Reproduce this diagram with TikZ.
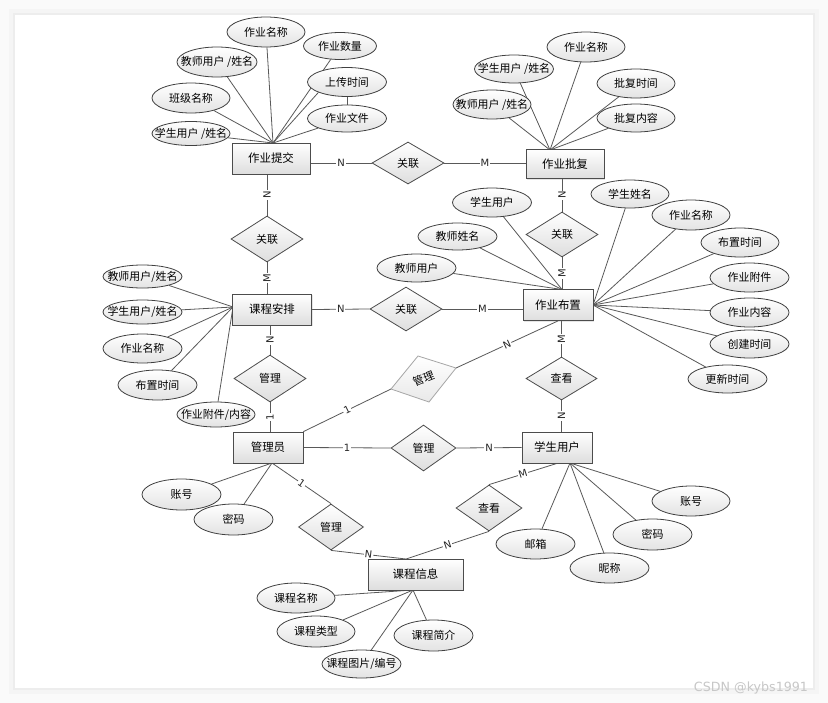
\documentclass[tikz,border=0pt]{standalone}
\usepackage{fontspec}
\newfontfamily\cjk{Noto Sans CJK SC}
\newfontfamily\lblf{DejaVu Sans}
\usetikzlibrary{shapes.geometric,shadows,calc}
\pgfdeclarelayer{bg}
\pgfdeclarelayer{bgg}
\pgfsetlayers{bgg,bg,main}
\newcommand\mbz[1]{\makebox[0pt]{#1}}
\begin{document}
\begin{tikzpicture}[x=0.75pt,y=-0.75pt,
  sz/.style 2 args={minimum width=#1*0.75pt, minimum height=#2*0.75pt},
  ent/.style={rectangle, draw=black!70, line width=0.6pt, top color=white, bottom color=black!13, inner sep=0pt,
    font=\cjk\fontsize{8.6}{10}\selectfont, drop shadow={shadow xshift=0.8pt,shadow yshift=-0.8pt,opacity=0.2}},
  rel/.style={diamond, draw=black!70, line width=0.6pt, top color=white, bottom color=black!13, inner sep=0pt,
    font=\cjk\fontsize{8.2}{10}\selectfont},
  attr/.style={ellipse, draw=black!75, line width=0.6pt, top color=white, bottom color=black!11, inner sep=0pt,
    font=\cjk\fontsize{8.2}{10}\selectfont},
  ln/.style={draw=black!65, line width=0.6pt},
  lbl/.style={fill=white, inner sep=0.7pt, font=\lblf\fontsize{7.5}{8}\selectfont, text=black!85}]
\useasboundingbox (0,0) rectangle (828,703);
\begin{pgfonlayer}{bgg}
\fill[black!2] (0,0) rectangle (828,703);
\fill[black!4] (9,9) rectangle (819,694);
\fill[black!7] (13,13) rectangle (815,690);
\fill[white] (15,15) rectangle (813,688);
\end{pgfonlayer}

% entities
\node[ent,sz={78}{31}] (zytj) at (271,158.5) {作业提交};
\node[ent,sz={78}{29}] (zypf) at (565,164) {作业批复};
\node[ent,sz={70}{31}] (zybz) at (558,305) {作业布置};
\node[ent,sz={79}{31}] (kcap) at (272,309.5) {课程安排};
\node[ent,sz={70}{31}] (gly) at (268,447.5) {管理员};
\node[ent,sz={70}{31}] (xsyh) at (557,447.5) {学生用户};
\node[ent,sz={95}{31}] (kcxx) at (415.5,574.5) {课程信息};

% relationships
\node[rel,sz={72}{42}] (r1) at (408,163) {\mbz{关联}};
\node[rel,sz={72}{46}] (r2) at (267,239) {\mbz{关联}};
\node[rel,sz={72}{44}] (r3) at (406,309) {\mbz{关联}};
\node[rel,sz={72}{45}] (r4) at (562,234.5) {\mbz{关联}};
\node[rel,sz={72}{47}] (r5) at (270,378.5) {\mbz{管理}};
\node[rel,sz={71}{43}] (r7) at (561.5,378.5) {\mbz{查看}};
\node[rel,sz={65}{46}] (r8) at (423.5,448) {\mbz{管理}};
\node[rel,sz={65}{46}] (r9) at (331,527) {\mbz{管理}};
\node[rel,sz={66}{46}] (r10) at (489,508) {\mbz{查看}};
\coordinate (r6l) at (391,389);
\coordinate (r6t) at (418,356);
\coordinate (r6r) at (456,368);
\coordinate (r6b) at (429,402);
\draw[draw=black!35, line width=0.6pt, top color=white, bottom color=black!9] (r6l) -- (r6t) -- (r6r) -- (r6b) -- cycle;
\node[rotate=22, font=\cjk\fontsize{8.2}{10}\selectfont, inner sep=0pt] (r6) at (423.5,379) {管理};

% attributes: 作业提交
\coordinate (c1) at (273,143);
\node[attr,sz={78}{30}] (a1) at (266,32) {\mbz{作业名称}};
\node[attr,sz={80}{30}] (a2) at (217,62) {\mbz{教师用户 /姓名}};
\node[attr,sz={73}{27}] (a3) at (340,46) {\mbz{作业数量}};
\node[attr,sz={79}{29}] (a4) at (347,82) {\mbz{上传时间}};
\node[attr,sz={79}{27}] (a5) at (347,118.5) {\mbz{作业文件}};
\node[attr,sz={78}{30}] (a6) at (191,98) {\mbz{班级名称}};
\node[attr,sz={78}{24}] (a7) at (191,133.5) {\mbz{学生用户 /姓名}};
% attributes: 作业批复
\coordinate (c2) at (550,150);
\node[attr,sz={78}{30}] (b1) at (586,47) {\mbz{作业名称}};
\node[attr,sz={79}{28}] (b2) at (514,69) {\mbz{学生用户 /姓名}};
\node[attr,sz={78}{29}] (b3) at (636,83.5) {\mbz{批复时间}};
\node[attr,sz={78}{29}] (b4) at (492,104.5) {\mbz{教师用户 /姓名}};
\node[attr,sz={78}{28}] (b5) at (636,118) {\mbz{批复内容}};
% attributes: 作业布置
\coordinate (c3) at (562,289.5);
\coordinate (c4) at (593,305);
\node[attr,sz={79}{29}] (d1) at (492,202.5) {\mbz{学生用户}};
\node[attr,sz={79}{27}] (d2) at (457.5,236.5) {\mbz{教师姓名}};
\node[attr,sz={79}{28}] (d3) at (416.5,268) {\mbz{教师用户}};
\node[attr,sz={78}{28}] (d4) at (630,194) {\mbz{学生姓名}};
\node[attr,sz={78}{30}] (d5) at (691,215) {\mbz{作业名称}};
\node[attr,sz={78}{29}] (d6) at (740,242.5) {\mbz{布置时间}};
\node[attr,sz={79}{29}] (d7) at (749.5,277.5) {\mbz{作业附件}};
\node[attr,sz={79}{29}] (d8) at (749.5,312.5) {\mbz{作业内容}};
\node[attr,sz={79}{28}] (d9) at (749.5,344) {\mbz{创建时间}};
\node[attr,sz={79}{28}] (d10) at (727.5,379) {\mbz{更新时间}};
% attributes: 课程安排
\coordinate (c5) at (233,307);
\node[attr,sz={79}{23}] (e1) at (142.5,276.5) {\mbz{教师用户/姓名}};
\node[attr,sz={79}{24}] (e2) at (142.5,312) {\mbz{学生用户/姓名}};
\node[attr,sz={79}{29}] (e3) at (142.5,348.5) {\mbz{作业名称}};
\node[attr,sz={79}{30}] (e4) at (157.5,385) {\mbz{布置时间}};
\node[attr,sz={78}{25}] (e5) at (216,414.5) {\mbz{作业附件/内容}};
% attributes: 管理员
\coordinate (c6) at (272,463);
\node[attr,sz={79}{31}] (f1) at (181.5,494.5) {\mbz{账号}};
\node[attr,sz={79}{31}] (f2) at (233.5,519.5) {\mbz{密码}};
% attributes: 课程信息
\coordinate (c7) at (413,590);
\node[attr,sz={78}{30}] (g1) at (296,598) {\mbz{课程名称}};
\node[attr,sz={78}{31}] (g2) at (316,631.5) {\mbz{课程类型}};
\node[attr,sz={79}{28}] (g3) at (361.5,664) {\mbz{课程图片/编号}};
\node[attr,sz={79}{31}] (g4) at (433.5,635.5) {\mbz{课程简介}};
% attributes: 学生用户
\coordinate (c8) at (570,463);
\node[attr,sz={78}{30}] (h1) at (691,501) {\mbz{账号}};
\node[attr,sz={79}{31}] (h2) at (652.5,534.5) {\mbz{密码}};
\node[attr,sz={79}{30}] (h3) at (535.5,544) {\mbz{邮箱}};
\node[attr,sz={79}{30}] (h4) at (609.5,568) {\mbz{昵称}};

\coordinate (kcT) at (406,559);

\begin{pgfonlayer}{bg}
\foreach \n in {a1,a2,a3,a5,a6,a7} \draw[ln] (\n) -- (c1);
\draw[ln] (a4.200) -- (c1);
\draw[ln] (a4.south) -- (a5.north);
\foreach \n in {b1,b2,b3,b4,b5} \draw[ln] (\n) -- (c2);
\foreach \n in {d1,d2,d3} \draw[ln] (\n) -- (c3);
\foreach \n in {d4,d5,d6,d7,d8,d9,d10} \draw[ln] (\n) -- (c4);
\foreach \n in {e1,e2,e3,e4,e5} \draw[ln] (\n) -- (c5);
\foreach \n in {f1,f2} \draw[ln] (\n) -- (c6);
\foreach \n in {g1,g2,g3,g4} \draw[ln] (\n) -- (c7);
\foreach \n in {h1,h2,h3,h4} \draw[ln] (\n) -- (c8);

% relationship connectors
\draw[ln] (zytj.east |- r1.west) -- node[lbl]{N} (r1.west);
\draw[ln] (r1.east) -- node[lbl]{M} (r1.east -| zypf.west);
\draw[ln] (r2.north |- zytj.south) -- node[lbl,rotate=90]{N} (r2.north);
\draw[ln] (r2.south) -- node[lbl,rotate=90]{M} (r2.south |- kcap.north);
\draw[ln] (kcap.east) -- node[lbl]{N} (r3.west);
\draw[ln] (r3.east) -- node[lbl]{M} (r3.east -| zybz.west);
\draw[ln] (r4.north |- zypf.south) -- node[lbl,rotate=90]{N} (r4.north);
\draw[ln] (r4.south) -- node[lbl,rotate=90]{M} (r4.south |- zybz.north);
\draw[ln] (r5.north |- kcap.south) -- node[lbl,rotate=90]{N} (r5.north);
\draw[ln] (r5.south) -- node[lbl,rotate=90]{1} (r5.south |- gly.north);
\draw[ln] (gly.north east) -- node[lbl,sloped]{1} (r6l);
\draw[ln] (r6r) -- node[lbl,sloped]{N} (zybz.south);
\draw[ln] (r7.north |- zybz.south) -- node[lbl,rotate=90]{M} (r7.north);
\draw[ln] (r7.south) -- node[lbl,rotate=90]{N} (r7.south |- xsyh.north);
\draw[ln] (gly.east) -- node[lbl]{1} (r8.west);
\draw[ln] (r8.east) -- node[lbl]{N} (xsyh.west);
\draw[ln] (c6) -- node[lbl,sloped]{1} (r9.north);
\draw[ln] (r9.south) -- node[lbl,sloped]{N} (kcT);
\draw[ln] (xsyh.south) -- node[lbl,sloped]{M} (r10.north);
\draw[ln] (r10.south) -- node[lbl,sloped]{N} (kcT);
\end{pgfonlayer}

\node[font=\lblf\fontsize{9.5}{10}\selectfont, text=black!22, inner sep=0pt] (wm) at (751,688) {CSDN @kybs1991};
\end{tikzpicture}
\end{document}
